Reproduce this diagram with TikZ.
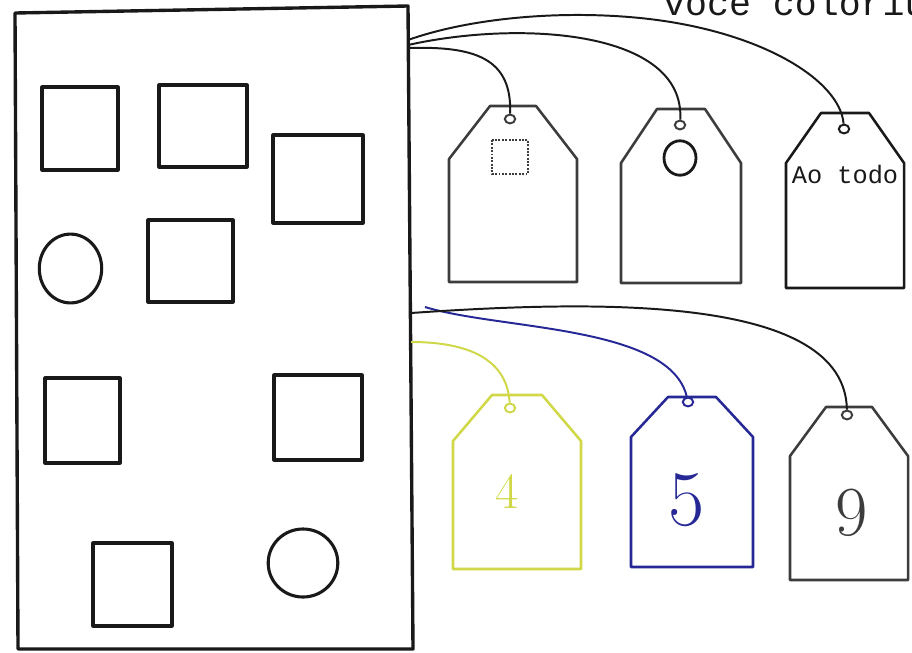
\documentclass[tikz,border=0pt]{standalone}
\usepackage{fontspec}
\usepackage{xcolor}
\usepackage{tikz}
\usetikzlibrary{shapes.geometric}
\newfontfamily\typefont{Liberation Mono}
\definecolor{tgY}{RGB}{208,216, 72}
\definecolor{tgB}{RGB}{ 38, 40,150}
\definecolor{tgK}{RGB}{ 25, 25, 25}
\definecolor{tgG}{RGB}{ 60, 60, 60}

\begin{document}
\begin{tikzpicture}[x=0.025cm, y=-0.025cm,
    fig/.style={draw=tgK, line width=2.2pt, line join=round},
    tagline/.style={line width=1.8pt, line join=round},
    hole/.style={ellipse, draw, line width=1.4pt, minimum width=0.26cm, minimum height=0.22cm, inner sep=0pt},
    string/.style={line width=1.4pt}
  ]
  \clip (0,0) rectangle (912,652);

  % heading, cut by the page edge
  \node[anchor=base west, inner sep=0pt, font=\typefont\fontsize{26}{28}\selectfont, text=tgK] (head) at (663,15) {você coloriu};

  % board
  \draw[fig, line width=2.4pt] (15,13) -- (408,6) -- (413,649) -- (18,649) -- cycle;
  \foreach \xa/\ya/\xb/\yb in {42/87/118/170, 159/85/247/167, 273/135/363/223, 148/220/233/302,
                               45/378/120/463, 274/375/362/460, 93/543/172/626} {
    \draw[fig] (\xa,\ya) rectangle (\xb,\yb);
  }
  \draw[fig] (70.5,268.5) ellipse [x radius=0.78cm, y radius=0.86cm];
  \draw[fig] (303,563) ellipse [x radius=0.87cm, y radius=0.85cm];

  % string ends on the board
  \coordinate (sA) at (408,48);
  \coordinate (sB) at (408,45);
  \coordinate (sC) at (408,40);
  \coordinate (sD) at (411,342);
  \coordinate (sE) at (425,307);
  \coordinate (sF) at (411,313);

  % tags
  \foreach \n/\cx/\yt/\tw/\ys/\yb/\w/\hx/\hy/\col in {
      A/513/106/23/159/282/64/510/119/tgG,
      B/681/109/24/163/283/60/680/125/tgG,
      C/845/113/24/163/288/59/844/129/tgK,
      D/517/395/25/441/569/64/510/408/tgY,
      E/692/397/24/437/567/61/688/402/tgB,
      F/849/407/23/456/580/59/847/415/tgG} {
    \draw[tagline, draw=\col] (\cx-\tw,\yt) -- (\cx+\tw,\yt) -- (\cx+\w,\ys) -- (\cx+\w,\yb)
      -- (\cx-\w,\yb) -- (\cx-\w,\ys) -- cycle;
    \node[hole, draw=\col] (h\n) at (\hx,\hy) {};
  }

  % what the tags show
  \draw[densely dotted, line width=1.4pt, tgG] (492,140) rectangle (528,174);
  \draw[fig, line width=2pt] (680,158) ellipse [x radius=0.4cm, y radius=0.43cm];
  \node[font=\typefont\fontsize{18}{20}\selectfont, text=tgK] (tC) at (845,174) {Ao todo};
  \node[font=\fontsize{36}{40}\selectfont, text=tgY] (tD) at (507,492) {4};
  \node[font=\fontsize{56}{60}\selectfont, text=tgB] (tE) at (687,500) {5};
  \node[font=\fontsize{50}{54}\selectfont, text=tgG] (tF) at (852,513) {9};

  % strings
  \draw[string, tgK] (sA) .. controls (475,46) and (512,58) .. (hA);
  \draw[string, tgK] (sB) .. controls (520,20) and (685,30) .. (hB);
  \draw[string, tgK] (sC) .. controls (470,18) and (560,10) .. (640,18)
    .. controls (760,30) and (840,80) .. (hC);
  \draw[string, tgY] (sD) .. controls (470,342) and (507,360) .. (hD);
  \draw[string, tgB] (sE) .. controls (500,330) and (670,325) .. (hE);
  \draw[string, tgK] (sF) .. controls (600,300) and (845,295) .. (hF);
\end{tikzpicture}
\end{document}
